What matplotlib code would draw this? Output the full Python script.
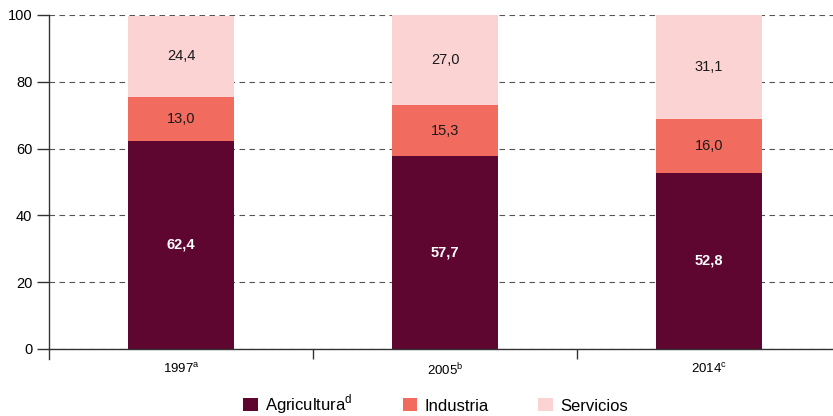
import matplotlib
matplotlib.use("Agg")
import matplotlib.pyplot as plt
from matplotlib.patches import Patch
import numpy as np

plt.rcParams.update({
    "font.family": ["Liberation Sans", "DejaVu Sans"],
    "mathtext.fontset": "custom",
    "mathtext.rm": "Liberation Sans",
    "font.size": 10,
})

# data
years = ["1997$^{\\mathrm{a}}$", "2005$^{\\mathrm{b}}$", "2014$^{\\mathrm{c}}$"]
agricultura = [62.4, 57.7, 52.8]
industria = [13.0, 15.3, 16.0]
servicios = [24.4, 27.0, 31.1]
series_names = ["Agricultura$^{\\mathrm{d}}$", "Industria", "Servicios"]
colors = ["#5E0630", "#F26B5F", "#FCD3D3"]
text_colors = ["white", "#1a1a1a", "#1a1a1a"]
yticks = [0, 20, 40, 60, 80, 100]

W, H = 833, 416
fig = plt.figure(figsize=(W / 100, H / 100), dpi=100)
ax = fig.add_axes([49 / W, (H - 349) / H, 792 / W, 334 / H])

x = np.arange(len(years))
bottom = np.zeros(len(years))
for vals, col, tcol in zip([agricultura, industria, servicios], colors, text_colors):
    vals = np.array(vals)
    ax.bar(x, vals, width=0.4, bottom=bottom, color=col, zorder=2)
    for xi, b, v in zip(x, bottom, vals):
        ax.text(xi, b + v / 2, f"{v:.1f}".replace(".", ","), ha="center", va="center",
                color=tcol, fontsize=10.5,
                fontweight="bold" if tcol == "white" else "normal", zorder=3)
    bottom += vals

ax.set_xlim(-0.5, 2.5)
ax.set_ylim(0, 100)
ax.set_yticks(yticks)
ax.yaxis.grid(True, linestyle=(0, (5, 4)), color="#555555", linewidth=0.8, zorder=0)
ax.set_axisbelow(True)

ax.set_xticks(x)
ax.set_xticklabels(years, fontsize=9.5)
ax.set_xticks([0.5, 1.5], minor=True)
ax.tick_params(axis="x", which="major", length=0, pad=9)
ax.tick_params(axis="x", which="minor", length=7, width=1, color="#333333", direction="out")
ax.tick_params(axis="y", length=9, width=1, color="#333333", pad=3, labelsize=10.5)

for s in ["top", "right"]:
    ax.spines[s].set_visible(False)
for s in ["left", "bottom"]:
    ax.spines[s].set_color("#333333")
    ax.spines[s].set_linewidth(1)
# left axis runs a bit below zero
ax.plot([-0.5, -0.5], [0, -3], color="#333333", linewidth=1, clip_on=False)

handles = [Patch(facecolor=c, edgecolor="none") for c in colors]
fig.legend(handles, series_names, loc="center", bbox_to_anchor=(0.523, 0.028),
           ncol=3, frameon=False, fontsize=12, handlelength=0.85, handleheight=0.85,
           handletextpad=0.45, columnspacing=3.0)

fig.savefig("out.png", dpi=100)
